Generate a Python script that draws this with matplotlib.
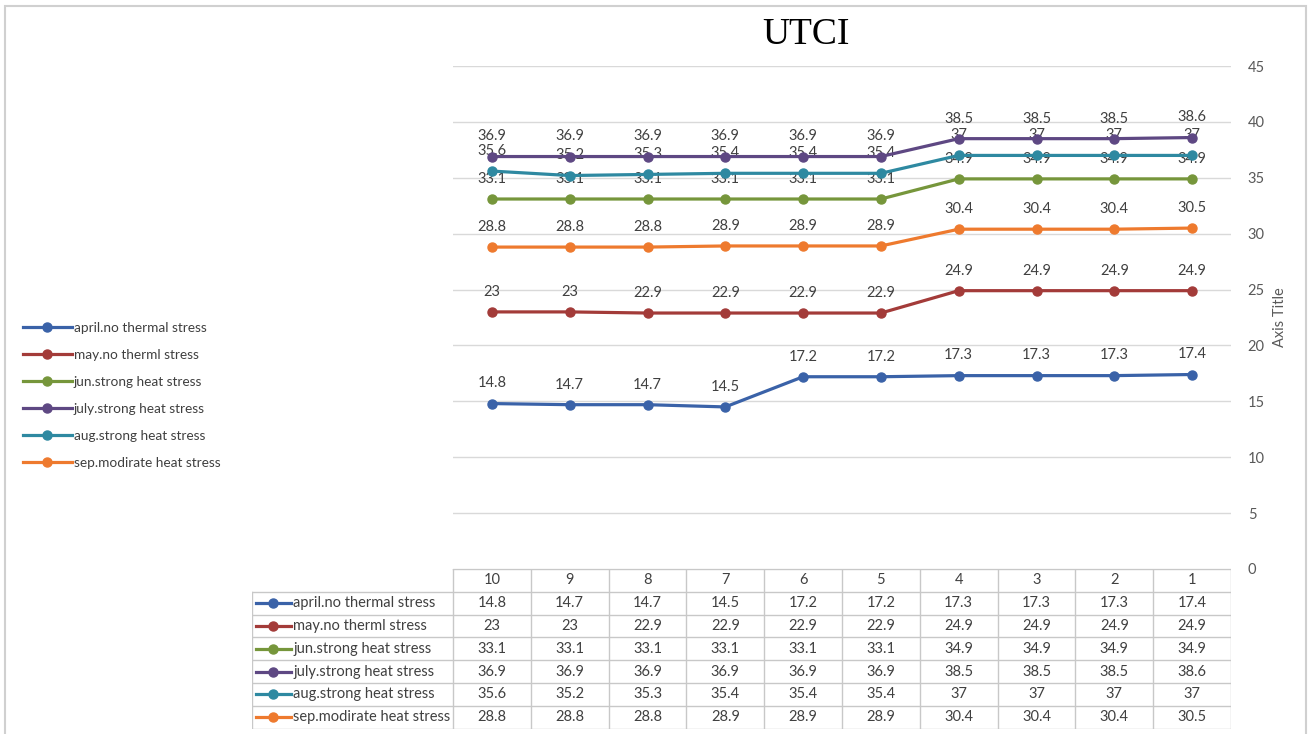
import matplotlib
matplotlib.use("Agg")
import matplotlib.pyplot as plt
from matplotlib.patches import Rectangle

plt.rcParams["font.family"] = ["Lato", "DejaVu Sans"]

# chart data, columns run 10 .. 1 as in the source table
categories = ["10", "9", "8", "7", "6", "5", "4", "3", "2", "1"]
series_names = [
    "april.no thermal stress",
    "may.no therml stress",
    "jun.strong heat stress",
    "july.strong heat stress",
    "aug.strong heat stress",
    "sep.modirate heat stress",
]
april = [14.8, 14.7, 14.7, 14.5, 17.2, 17.2, 17.3, 17.3, 17.3, 17.4]
may = [23, 23, 22.9, 22.9, 22.9, 22.9, 24.9, 24.9, 24.9, 24.9]
jun = [33.1, 33.1, 33.1, 33.1, 33.1, 33.1, 34.9, 34.9, 34.9, 34.9]
july = [36.9, 36.9, 36.9, 36.9, 36.9, 36.9, 38.5, 38.5, 38.5, 38.6]
aug = [35.6, 35.2, 35.3, 35.4, 35.4, 35.4, 37, 37, 37, 37]
sep = [28.8, 28.8, 28.8, 28.9, 28.9, 28.9, 30.4, 30.4, 30.4, 30.5]
series_values = [april, may, jun, july, aug, sep]
series_colors = ["#3A62A8", "#A33B39", "#76963B", "#5E4883", "#2E89A1", "#EE7A2E"]
y_ticks = [0, 5, 10, 15, 20, 25, 30, 35, 40, 45]

W, H = 1312, 734
FS = 10.5
TXT = "#404040"
fig = plt.figure(figsize=(W / 100, H / 100), dpi=100)

# outer chart frame
fig.patches.append(Rectangle((5 / W, -0.01), 1301 / W, (H - 6) / H + 0.01,
                             transform=fig.transFigure, fill=False,
                             edgecolor="#D0D0D0", linewidth=1.5))

x0, x1 = 453, 1231
ax = fig.add_axes([x0 / W, (H - 569) / H, (x1 - x0) / W, (569 - 66) / H])
xs = list(range(len(categories)))
handles = []
for name, vals, col in zip(series_names, series_values, series_colors):
    (ln,) = ax.plot(xs, vals, color=col, linewidth=2.3, marker="o",
                    markersize=6.5, label=name, zorder=3)
    handles.append(ln)
    for x, v in zip(xs, vals):
        ax.annotate(f"{v:g}", (x, v), xytext=(0, 14.5), textcoords="offset points",
                    ha="center", va="center", fontsize=FS, color=TXT, zorder=2)

ax.set_xlim(-0.5, len(categories) - 0.5)
ax.set_ylim(0, 45)
ax.set_yticks(y_ticks)
ax.yaxis.tick_right()
ax.yaxis.set_label_position("right")
ax.tick_params(axis="y", length=0, pad=12, labelsize=FS, labelcolor="#595959")
ax.set_xticks([])
ax.grid(axis="y", color="#D9D9D9", linewidth=1)
ax.set_axisbelow(True)
for s in ax.spines.values():
    s.set_visible(False)
ax.set_ylabel("Axis Title", fontsize=FS, color="#595959", labelpad=6)

fig.text(806 / W, 1 - 35 / H, "UTCI", fontsize=27, family="Liberation Serif",
         ha="center", va="center", color="#000000")

# legend on the left
fig.legend(handles=handles, loc="upper left",
           bbox_to_anchor=(16 / W, 1 - 315 / H), frameon=False,
           fontsize=9.8, labelcolor=TXT, handlelength=3.6,
           handletextpad=0.15, labelspacing=1.1, borderpad=0)

# data table under the plot
col_w = (x1 - x0) / len(categories)
lab_w = (x0 - 252) / col_w
tab_top, row_h = 569, 22.8
n_rows = len(series_names) + 1
tax = fig.add_axes([252 / W, (H - (tab_top + n_rows * row_h)) / H,
                    (x1 - 252) / W, n_rows * row_h / H])
tax.set_xlim(-0.5 - lab_w, len(categories) - 0.5)
tax.set_ylim(n_rows, 0)
tax.axis("off")
grid_kw = dict(color="#C8C8C8", linewidth=1)
tax.plot([-0.5, len(categories) - 0.5], [0, 0], **grid_kw)
for r in range(1, n_rows + 1):
    tax.plot([-0.5 - lab_w, len(categories) - 0.5], [r, r], **grid_kw)
tax.plot([-0.5 - lab_w] * 2, [1, n_rows], **grid_kw)
for c in range(len(categories) + 1):
    tax.plot([c - 0.5] * 2, [0, n_rows], **grid_kw)
for i, cat in enumerate(categories):
    tax.text(i, 0.5, cat, ha="center", va="center", fontsize=FS, color=TXT)
kx = -0.5 - lab_w
for r, (name, vals, col) in enumerate(zip(series_names, series_values, series_colors), start=1):
    tax.plot([kx + 0.05, kx + 0.5], [r + 0.5] * 2, color=col, linewidth=2.3)
    tax.plot([kx + 0.27], [r + 0.5], marker="o", markersize=6.5, color=col)
    tax.text(kx + 0.53, r + 0.5, name, ha="left", va="center", fontsize=FS, color=TXT)
    for i, v in enumerate(vals):
        tax.text(i, r + 0.5, f"{v:g}", ha="center", va="center", fontsize=FS, color=TXT)

fig.savefig("out.png", dpi=100)
